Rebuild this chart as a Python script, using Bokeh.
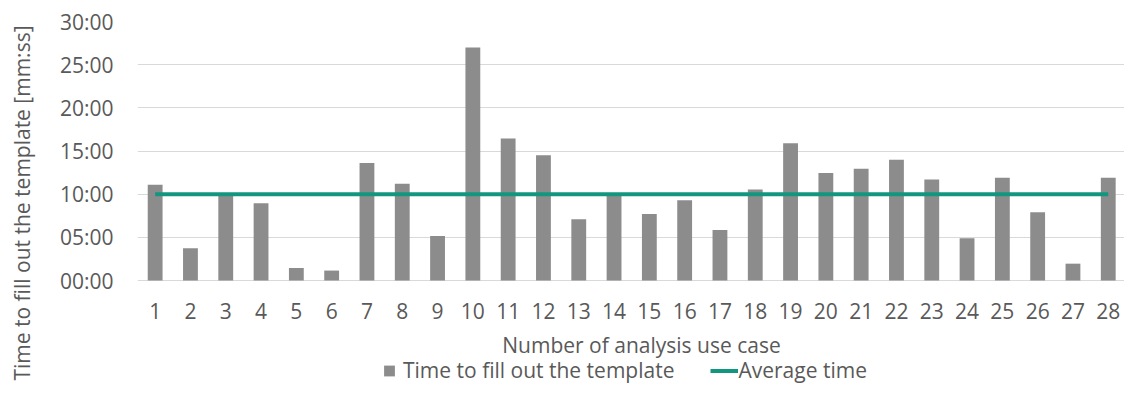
import math
from bokeh.plotting import figure
from bokeh.models import FixedTicker, Legend, LegendItem, ColumnDataSource, Label
from bokeh.core.properties import value
from bokeh.embed import file_html
from bokeh.resources import INLINE

# ---- data (minutes) ----
cases = list(range(1, 29))
case_labels = [str(c) for c in cases]
fill_minutes = [11.1, 3.75, 10.0, 8.95, 1.45, 1.15, 13.6, 11.2, 5.15, 27.0,
                16.45, 14.5, 7.1, 10.0, 7.7, 9.3, 5.85, 10.55, 15.9, 12.45,
                12.95, 14.0, 11.7, 4.9, 11.9, 7.9, 1.95, 11.9]
average_minutes = 10.0
y_ticks = [0, 5, 10, 15, 20, 25, 30]
y_tick_labels = ["00:00", "05:00", "10:00", "15:00", "20:00", "25:00", "30:00"]
bar_name = "Time to fill out the template"
line_name = "Average time"
x_title = "Number of analysis use case"
y_title = "Time to fill out the template [mm:ss]"

FONT = "Open Sans"
TXT = "#595959"
GRID = "#d9d9d9"
BAR = "#8c8c8c"
TEAL = "#13967f"
FS = "21px"

# ---- layout (pixels) ----
W, H = 1124, 384
TOP, ZERO_PX = 21, 280          # pixel rows of the 30:00 and 00:00 gridlines
px_per_min = (ZERO_PX - TOP) / (y_ticks[-1] - y_ticks[0])
y_start = -(H - ZERO_PX) / px_per_min   # frame runs to the bottom edge

p = figure(width=W, height=H, x_range=(0.5, 28.46), y_range=(y_start, y_ticks[-1]),
           output_backend="svg", toolbar_location=None, x_axis_location=None)
p.min_border_left = 137
p.min_border_right = 0
p.min_border_top = TOP
p.min_border_bottom = 0
p.outline_line_color = None
p.background_fill_color = "white"
p.border_fill_color = "white"

src = ColumnDataSource(dict(x=cases, y=fill_minutes, base=[y_ticks[0]] * len(cases),
                            lab=case_labels))
bars = p.vbar(x="x", top="y", width=0.42, bottom=y_ticks[0], source=src,
              fill_color=BAR, line_color=None)
avg = p.line(x=[cases[0], cases[-1]], y=[average_minutes, average_minutes],
             line_color=TEAL, line_width=4)
# legend swatch for the bar series (square marker, nothing drawn in the plot)
swatch = p.scatter(x=[float("nan")], y=[float("nan")], marker="square",
                   fill_color=BAR, line_color=None)

# category labels under the 00:00 line
p.text(x="x", y="base", text="lab", source=src, y_offset=30,
       text_align="center", text_baseline="middle", text_font=value(FONT),
       text_font_size=FS, text_color=TXT)

# y axis
p.yaxis.ticker = FixedTicker(ticks=y_ticks)
p.yaxis.major_label_overrides = {t: l for t, l in zip(y_ticks, y_tick_labels)}
p.yaxis.major_tick_line_color = None
p.yaxis.minor_tick_line_color = None
p.yaxis.major_tick_out = 0
p.yaxis.major_tick_in = 0
p.yaxis.axis_line_color = None
p.yaxis.major_label_text_font = FONT
p.yaxis.major_label_text_font_size = FS
p.yaxis.major_label_text_color = TXT
p.yaxis.major_label_standoff = 24
p.yaxis.axis_label = y_title
p.yaxis.axis_label_standoff = 21
p.yaxis.axis_label_text_font = FONT
p.yaxis.axis_label_text_font_size = FS
p.yaxis.axis_label_text_font_style = "normal"
p.yaxis.axis_label_text_color = TXT

p.xgrid.grid_line_color = None
p.ygrid.ticker = FixedTicker(ticks=y_ticks)
p.ygrid.grid_line_color = GRID
p.ygrid.grid_line_width = 1

# x axis title
p.add_layout(Label(x=504, y=40, x_units="screen", y_units="screen", text=x_title,
                   text_align="center", text_baseline="middle", text_font=FONT,
                   text_font_size=FS, text_color=TXT))

legend = Legend(items=[LegendItem(label=bar_name, renderers=[swatch]),
                       LegendItem(label=line_name, renderers=[avg])],
                location=(238, 0), orientation="horizontal",
                glyph_width=28, glyph_height=27, label_standoff=0,
                padding=0, margin=0, spacing=36, border_line_color=None,
                background_fill_alpha=0, label_text_font=FONT,
                label_text_font_size=FS, label_text_color=TXT)
p.add_layout(legend, "center")

open("out.html", "w").write(file_html(p, INLINE))
